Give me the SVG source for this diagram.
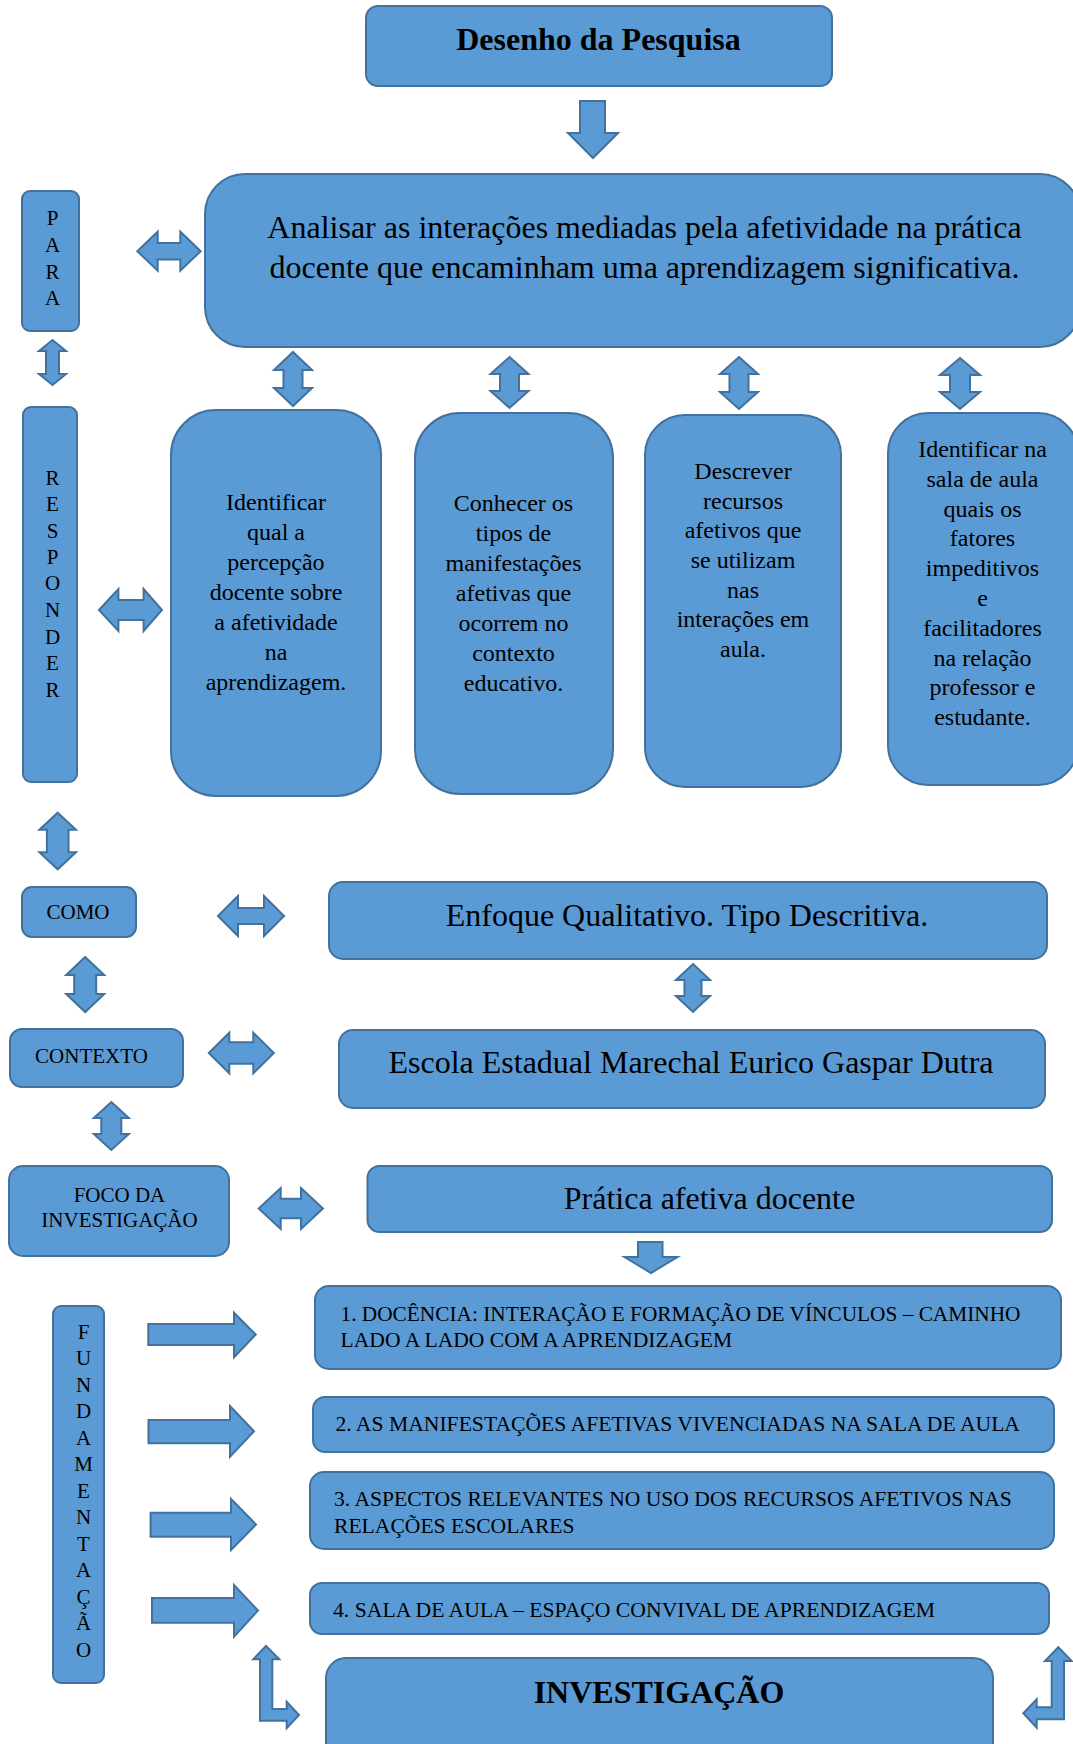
<svg xmlns="http://www.w3.org/2000/svg" width="1073" height="1744" viewBox="0 0 1073 1744">
<style>
.box{fill:#5B9BD5;stroke:#41719C;stroke-width:2}
.arr{fill:#5B9BD5;stroke:#41719C;stroke-width:2;stroke-linejoin:miter}
text{font-family:"Liberation Serif","Times New Roman",serif;fill:#000}
.big{font-size:32px}
.bold{font-weight:bold}
.obj{font-size:24px;text-anchor:middle}
.sm{font-size:21px}
.tm{font-size:21.6px}
.mid{text-anchor:middle}
</style>
<rect width="1073" height="1744" fill="#fff"/>

<g id="connectors">
<polygon class="arr" points="580,101 605,101 605,133 618,133 593,158 568,133 580,133"/>
<polygon class="arr" points="137.3,251.2 157.7,231.7 157.7,242.9 180.3,242.9 180.3,231.7 200.7,251.2 180.3,270.7 180.3,259.5 157.7,259.5 157.7,270.7"/>
<polygon class="arr" points="52.5,340 66,351 59,351 59,374 66,374 52.5,385 39,374 46,374 46,351 39,351"/>
<polygon class="arr" points="293,352 312,370 302.5,370 302.5,388 312,388 293,406 274,388 283.5,388 283.5,370 274,370"/>
<polygon class="arr" points="509.5,357 528.5,374 519,374 519,391 528.5,391 509.5,408 490.5,391 500,391 500,374 490.5,374"/>
<polygon class="arr" points="739,357 758,374 748.5,374 748.5,392 758,392 739,409 720,392 729.5,392 729.5,374 720,374"/>
<polygon class="arr" points="960,358 980,375 970,375 970,392 980,392 960,409 940,392 950,392 950,375 940,375"/>
<polygon class="arr" points="99,610 118.4,589 118.4,600 143.6,600 143.6,589 162,610 143.6,631 143.6,620 118.4,620 118.4,631"/>
<polygon class="arr" points="57.7,812.7 76,829.7 68.5,829.7 68.5,852.3 76,852.3 57.7,869.3 39.4,852.3 46.9,852.3 46.9,829.7 39.4,829.7"/>
<polygon class="arr" points="218,916 238,896 238,908 264,908 264,896 284,916 264,936 264,924 238,924 238,936"/>
<polygon class="arr" points="693,964 710,980 701.5,980 701.5,996 710,996 693,1012 676,996 684.5,996 684.5,980 676,980"/>
<polygon class="arr" points="85.2,957 104.2,975 96.2,975 96.2,994 104.2,994 85.2,1012 66.2,994 74.2,994 74.2,975 66.2,975"/>
<polygon class="arr" points="208.8,1053 229.3,1032.7 229.3,1042.3 253.3,1042.3 253.3,1032.7 273.8,1053 253.3,1073.3 253.3,1063.7 229.3,1063.7 229.3,1073.3"/>
<polygon class="arr" points="111.3,1102 128.8,1118 121.3,1118 121.3,1134 128.8,1134 111.3,1150 93.8,1134 101.3,1134 101.3,1118 93.8,1118"/>
<polygon class="arr" points="258.7,1208.5 280.7,1188 280.7,1198.8 301,1198.8 301,1188 323,1208.5 301,1229 301,1218.2 280.7,1218.2 280.7,1229"/>
<polygon class="arr" points="638,1242 662.5,1242 662.5,1257 677.5,1257 651,1273 624.5,1257 638,1257"/>
<polygon class="arr" points="148.3,1324 234,1324 234,1312.7 255.7,1334.5 234,1357.3 234,1345 148.3,1345"/>
<polygon class="arr" points="148.5,1420 230,1420 230,1406 254,1431.3 230,1456.7 230,1443.3 148.5,1443.3"/>
<polygon class="arr" points="150.6,1512.7 231,1512.7 231,1499 256,1524.5 231,1550 231,1536.7 150.6,1536.7"/>
<polygon class="arr" points="152,1598 234,1598 234,1585 258,1610.5 234,1636.7 234,1622.7 152,1622.7"/>
<polygon class="arr" points="266,1646 279.3,1659.3 272.3,1659.3 272.3,1709 286.7,1709 286.7,1701.7 299,1715 286.7,1728.3 286.7,1720.7 260,1720.7 260,1659.3 253.3,1659.3"/>
<polygon class="arr" points="1058.3,1647.3 1071.7,1661 1064,1661 1064,1719.3 1036.7,1719.3 1036.7,1727.7 1023.3,1713.3 1036.7,1699.3 1036.7,1707.3 1051.7,1707.3 1051.7,1661 1045,1661"/>
</g>

<g id="desenho">
<rect class="box" x="366" y="6" width="466" height="80" rx="12"/>
<text class="big bold mid" x="598.5" y="50">Desenho da Pesquisa</text>
</g>

<g id="analisar">
<rect class="box" x="205" y="174" width="875" height="173" rx="40"/>
<text class="big mid" x="644.5" y="238">Analisar as interações mediadas pela afetividade na prática</text>
<text class="big mid" x="644.5" y="278">docente que encaminham uma aprendizagem significativa.</text>
</g>

<g id="para">
<rect class="box" x="22" y="191" width="57" height="140" rx="8"/>
<text class="sm mid" x="52.5" y="225">P</text>
<text class="sm mid" x="52.5" y="252">A</text>
<text class="sm mid" x="52.5" y="279">R</text>
<text class="sm mid" x="52.5" y="305">A</text>
</g>

<g id="responder">
<rect class="box" x="23" y="407" width="54" height="375" rx="8"/>
<text class="sm mid" x="52.5" y="485">R</text>
<text class="sm mid" x="52.5" y="511">E</text>
<text class="sm mid" x="52.5" y="538">S</text>
<text class="sm mid" x="52.5" y="564">P</text>
<text class="sm mid" x="52.5" y="590">O</text>
<text class="sm mid" x="52.5" y="617">N</text>
<text class="sm mid" x="52.5" y="644">D</text>
<text class="sm mid" x="52.5" y="670">E</text>
<text class="sm mid" x="52.5" y="697">R</text>
</g>

<g id="obj1">
<rect class="box" x="171" y="410" width="210" height="386" rx="45"/>
<text class="obj" x="276" y="510">Identificar</text>
<text class="obj" x="276" y="540">qual a</text>
<text class="obj" x="276" y="570">percepção</text>
<text class="obj" x="276" y="600">docente sobre</text>
<text class="obj" x="276" y="630">a afetividade</text>
<text class="obj" x="276" y="660">na</text>
<text class="obj" x="276" y="690">aprendizagem.</text>
</g>

<g id="obj2">
<rect class="box" x="415" y="413" width="198" height="381" rx="45"/>
<text class="obj" x="513.5" y="511">Conhecer os</text>
<text class="obj" x="513.5" y="541">tipos de</text>
<text class="obj" x="513.5" y="571">manifestações</text>
<text class="obj" x="513.5" y="601">afetivas que</text>
<text class="obj" x="513.5" y="631">ocorrem no</text>
<text class="obj" x="513.5" y="661">contexto</text>
<text class="obj" x="513.5" y="691">educativo.</text>
</g>

<g id="obj3">
<rect class="box" x="645" y="415" width="196" height="372" rx="40"/>
<text class="obj" x="743" y="479">Descrever</text>
<text class="obj" x="743" y="509">recursos</text>
<text class="obj" x="743" y="538">afetivos que</text>
<text class="obj" x="743" y="568">se utilizam</text>
<text class="obj" x="743" y="598">nas</text>
<text class="obj" x="743" y="627">interações em</text>
<text class="obj" x="743" y="657">aula.</text>
</g>

<g id="obj4">
<rect class="box" x="888" y="413" width="190" height="372" rx="40"/>
<text class="obj" x="982.5" y="457">Identificar na</text>
<text class="obj" x="982.5" y="487">sala de aula</text>
<text class="obj" x="982.5" y="517">quais os</text>
<text class="obj" x="982.5" y="546">fatores</text>
<text class="obj" x="982.5" y="576">impeditivos</text>
<text class="obj" x="982.5" y="606">e</text>
<text class="obj" x="982.5" y="636">facilitadores</text>
<text class="obj" x="982.5" y="666">na relação</text>
<text class="obj" x="982.5" y="695">professor e</text>
<text class="obj" x="982.5" y="725">estudante.</text>
</g>

<g id="como">
<rect class="box" x="22" y="887" width="114" height="50" rx="10"/>
<text class="sm mid" x="78" y="919">COMO</text>
</g>

<g id="enfoque">
<rect class="box" x="329" y="882" width="718" height="77" rx="14"/>
<text class="big mid" x="687" y="926">Enfoque Qualitativo. Tipo Descritiva.</text>
</g>

<g id="contexto">
<rect class="box" x="10" y="1029" width="173" height="58" rx="12"/>
<text class="sm mid" x="91.5" y="1063">CONTEXTO</text>
</g>

<g id="escola">
<rect class="box" x="339" y="1030" width="706" height="78" rx="14"/>
<text class="big mid" x="691" y="1073">Escola Estadual Marechal Eurico Gaspar Dutra</text>
</g>

<g id="foco">
<rect class="box" x="9" y="1166" width="220" height="90" rx="14"/>
<text class="sm mid" x="119.5" y="1202">FOCO DA</text>
<text class="sm mid" x="119.5" y="1227">INVESTIGAÇÃO</text>
</g>

<g id="pratica">
<rect class="box" x="367.5" y="1166" width="684.5" height="66" rx="12"/>
<text class="big mid" x="709.5" y="1209">Prática afetiva docente</text>
</g>

<g id="fundamentacao">
<rect class="box" x="53" y="1306" width="51" height="377" rx="8"/>
<text class="sm mid" x="83.5" y="1338.5">F</text>
<text class="sm mid" x="83.5" y="1365">U</text>
<text class="sm mid" x="83.5" y="1391.5">N</text>
<text class="sm mid" x="83.5" y="1418">D</text>
<text class="sm mid" x="83.5" y="1444.5">A</text>
<text class="sm mid" x="83.5" y="1471">M</text>
<text class="sm mid" x="83.5" y="1497.5">E</text>
<text class="sm mid" x="83.5" y="1524">N</text>
<text class="sm mid" x="83.5" y="1550.5">T</text>
<text class="sm mid" x="83.5" y="1577">A</text>
<text class="sm mid" x="83.5" y="1603.5">Ç</text>
<text class="sm mid" x="83.5" y="1630">Ã</text>
<text class="sm mid" x="83.5" y="1656.5">O</text>
</g>

<g id="tema1">
<rect class="box" x="315" y="1286" width="746" height="83" rx="14"/>
<text class="tm" x="340.5" y="1320.7" textLength="680" lengthAdjust="spacingAndGlyphs">1. DOCÊNCIA: INTERAÇÃO E FORMAÇÃO DE VÍNCULOS – CAMINHO</text>
<text class="tm" x="340.5" y="1347.3">LADO A LADO COM A APRENDIZAGEM</text>
</g>

<g id="tema2">
<rect class="box" x="313" y="1397" width="741" height="55" rx="12"/>
<text class="tm" x="335.4" y="1430.7" textLength="684.6" lengthAdjust="spacingAndGlyphs">2. AS MANIFESTAÇÕES AFETIVAS VIVENCIADAS NA SALA DE AULA</text>
</g>

<g id="tema3">
<rect class="box" x="310" y="1472" width="744" height="77" rx="14"/>
<text class="tm" x="334" y="1506">3. ASPECTOS RELEVANTES NO USO DOS RECURSOS AFETIVOS NAS</text>
<text class="tm" x="334" y="1532.7">RELAÇÕES ESCOLARES</text>
</g>

<g id="tema4">
<rect class="box" x="310" y="1583" width="739" height="51" rx="12"/>
<text class="tm" x="333" y="1616.7" textLength="602" lengthAdjust="spacingAndGlyphs">4. SALA DE AULA – ESPAÇO CONVIVAL DE APRENDIZAGEM</text>
</g>

<g id="investigacao">
<rect class="box" x="326" y="1658" width="667" height="120" rx="20"/>
<text class="big bold mid" x="659" y="1703">INVESTIGAÇÃO</text>
</g>
</svg>
